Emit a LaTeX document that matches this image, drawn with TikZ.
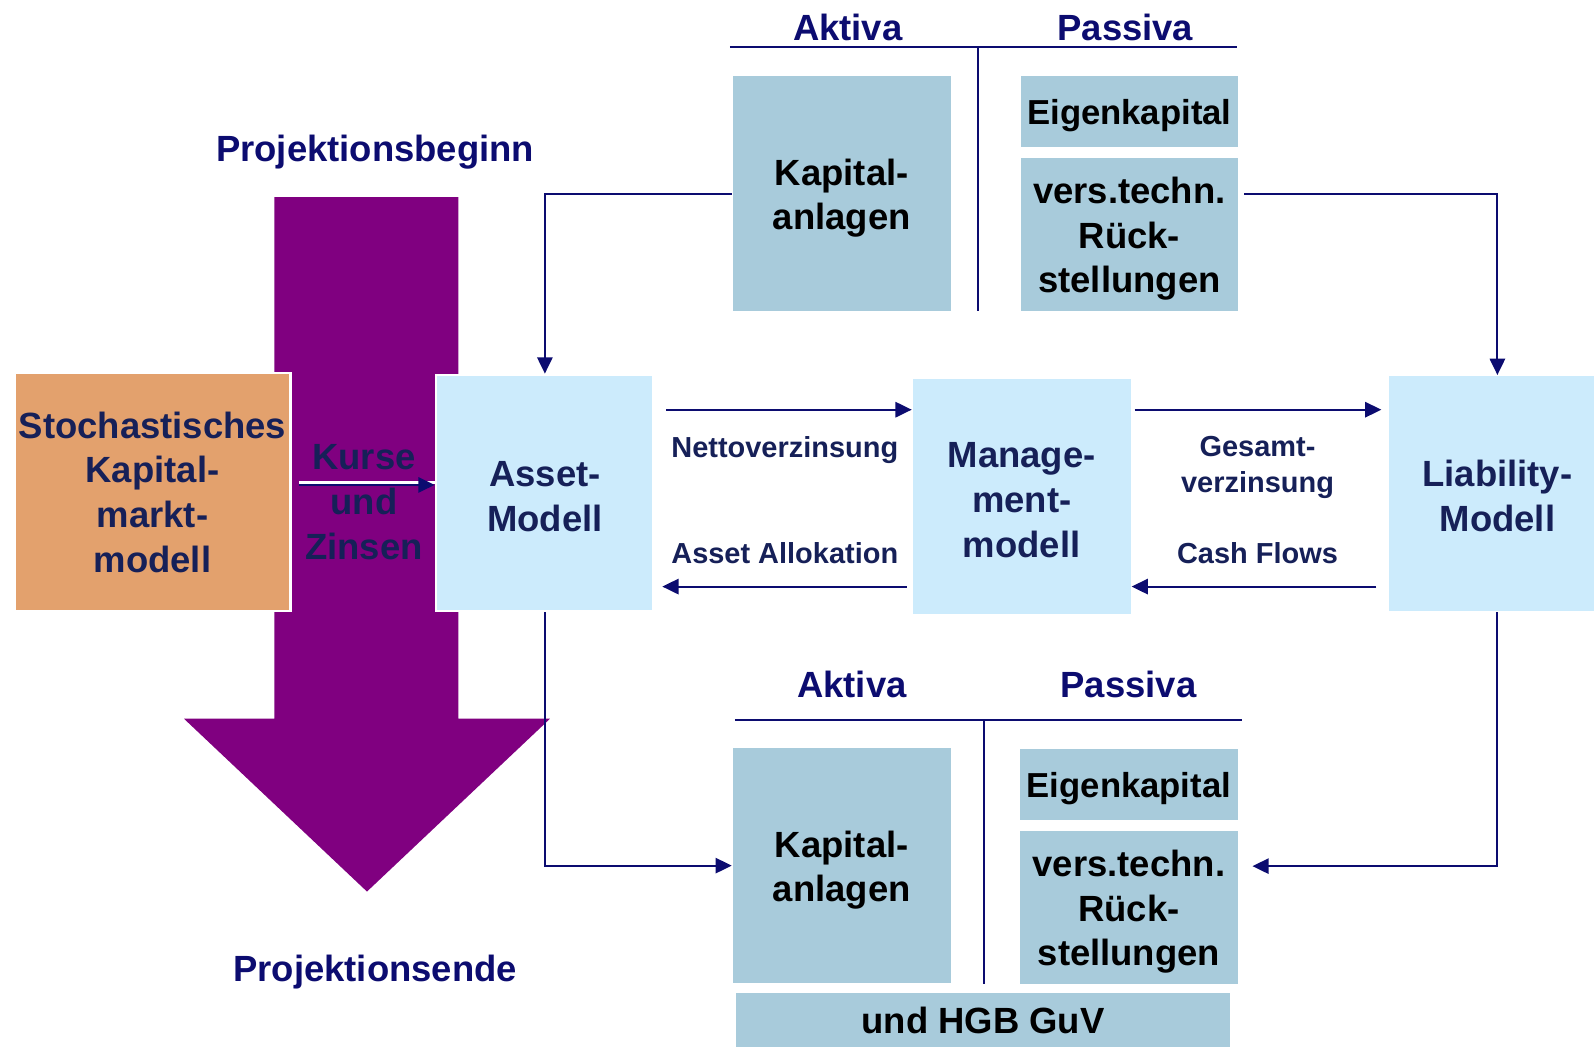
\documentclass[tikz,border=0pt]{standalone}
\usepackage{fontspec}
\setmainfont{Liberation Sans}
\usetikzlibrary{arrows.meta,positioning}
\definecolor{lila}{RGB}{128,0,128}
\definecolor{orangebox}{RGB}{227,161,109}
\definecolor{hellblau}{RGB}{204,235,252}
\definecolor{bilanz}{RGB}{168,203,219}
\definecolor{navy}{RGB}{12,12,112}
\definecolor{dunkel}{RGB}{22,32,88}
% hebt die erste Zeile an
\newcommand{\zeile}[1]{\rule{0pt}{#1pt}}
\begin{document}
\begin{tikzpicture}[x=0.01cm, y=-0.01cm, >={Triangle[length=0.16cm,width=0.15cm]}, line width=0.6pt]
  \tikzset{
    big/.style={font=\fontsize{10.2}{12.5}\selectfont\bfseries},
    small/.style={font=\fontsize{8.1}{10}\selectfont\bfseries},
    model/.style={big, fill=hellblau, text=dunkel, minimum width=2.14cm, minimum height=2.32cm, align=center, inner sep=0pt},
    bal/.style={big, fill=bilanz, text=black, minimum width=2.14cm, align=center, inner sep=0pt},
    eig/.style={bal, minimum height=0.70cm, font=\fontsize{9.7}{12}\selectfont\bfseries},
    head/.style={big, text=navy},
    flow/.style={->, draw=navy},
    lbl/.style={small, text=dunkel, align=center}
  }
  \useasboundingbox (0,0) rectangle (1568,1029);
  \clip (0,0) rectangle (1568,1029);
  % Projektionspfeil
  \fill[lila] (270,194) -- (451,194) -- (451,707) -- (541,707) -- (361,877) -- (181,707) -- (270,707) -- cycle;
  \node[head] (beginn) at (369,150) {Projektionsbeginn};
  \node[head] (ende) at (369,956) {Projektionsende};
  % Modelle
  \node[model, fill=orangebox, draw=white, line width=0.8pt, minimum width=2.72cm, minimum height=2.34cm] (kmm) at (150,484) {Stochastisches\\Kapital-\\markt-\\modell};
  \node[model, draw=white, line width=0.8pt] (asset) at (536,485) {\zeile{8.9}Asset-\\Modell};
  \node[model, minimum height=2.31cm] (mgmt) at (1005,488.5) {\zeile{8.9}Manage-\\ment-\\modell};
  \node[model, minimum height=2.31cm] (liab) at (1473,485.5) {\zeile{8.9}Liability-\\Modell};
  \node[big, text=dunkel, align=center] (kurse) at (358,494) {Kurse\\und\\Zinsen};
  % Bilanz oben
  \node[head] (aktiva1) at (834,27) {Aktiva};
  \node[head] (passiva1) at (1107,27) {Passiva};
  \draw[navy] (718,46) -- (1217,46);
  \draw[navy] (962,46) -- (962,306);
  \node[bal, minimum height=2.31cm] (kaptop) at (828,190.5) {\zeile{9.9}Kapital-\\anlagen};
  \node[eig] (eigtop) at (1111,110) {\zeile{9.2}Eigenkapital};
  \node[bal, minimum height=1.51cm] (vtop) at (1111,230.5) {\zeile{9.9}vers.techn.\\Rück-\\stellungen};
  % Bilanz unten
  \node[head] (aktiva2) at (838,673) {Aktiva};
  \node[head] (passiva2) at (1110,673) {Passiva};
  \draw[navy] (723,708) -- (1222,708);
  \draw[navy] (968,708) -- (968,968);
  \node[bal, minimum height=2.31cm] (kapbot) at (828,851.5) {\zeile{9.9}Kapital-\\anlagen};
  \node[eig, minimum width=2.15cm] (eigbot) at (1110.5,772) {\zeile{8.9}Eigenkapital};
  \node[bal, minimum width=2.15cm, minimum height=1.51cm] (vbot) at (1110.5,892.5) {\zeile{9.9}vers.techn.\\Rück-\\stellungen};
  \node[bal, minimum width=4.86cm, minimum height=0.54cm] (hgb) at (967,1004) {und HGB GuV};
  % Verbindungen
  \coordinate (kz) at (294,477);
  \draw[flow, preaction={draw=white, line width=0.8pt, -, transform canvas={yshift=0.6pt}}] (kz) -- (kz -| asset.west);
  \draw[flow] (kaptop.west) -| (asset.north);
  \coordinate (vin) at (1224,191);
  \draw[flow] (vin) -| (liab.north);
  \draw[flow] (asset.south) |- (kapbot.west);
  \coordinate (vbin) at (1232,852);
  \draw[flow] (liab.south) |- (vbin);
  \coordinate (oben) at (0,403);
  \coordinate (unten) at (0,577);
  \draw[flow, shorten <=0.11cm] (asset.east |- oben) -- (mgmt.west |- oben);
  \draw[flow, shorten <=0.03cm, shorten >=0.06cm] (mgmt.east |- oben) -- (liab.west |- oben);
  \draw[flow, shorten <=0.05cm, shorten >=0.07cm] (mgmt.west |- unten) -- (asset.east |- unten);
  \draw[flow, shorten <=0.11cm] (liab.west |- unten) -- (mgmt.east |- unten);
  \node[lbl] (netto) at (772,443) {Nettoverzinsung};
  \node[lbl] (alloc) at (772,544) {Asset Allokation};
  \node[lbl] (gesamt) at (1237,460) {Gesamt-\\verzinsung};
  \node[lbl] (cash) at (1237,544) {Cash Flows};
\end{tikzpicture}
\end{document}
